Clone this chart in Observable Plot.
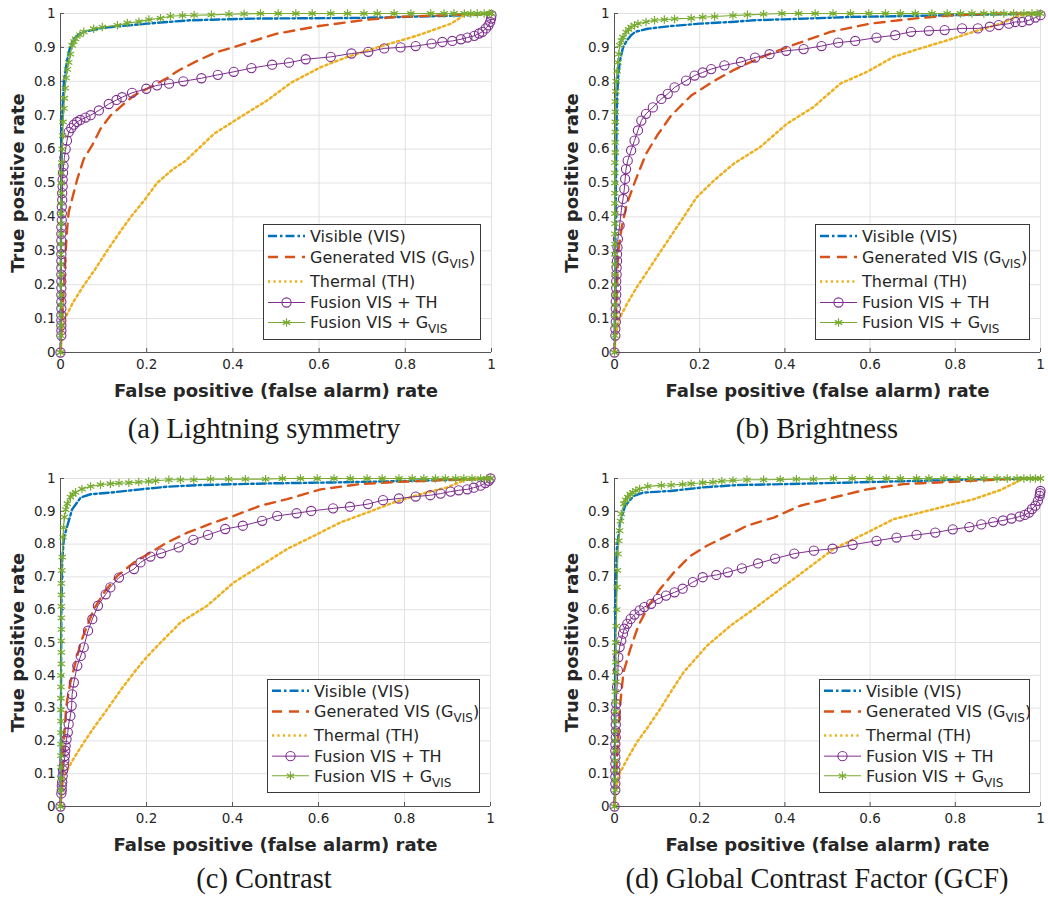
<!DOCTYPE html>
<html><head><meta charset="utf-8">
<script src="https://cdn.jsdelivr.net/npm/d3@7"></script>
<script src="https://cdn.jsdelivr.net/npm/@observablehq/plot@0.6"></script>
<style>
body{margin:0;background:#fff;}
#root{position:relative;width:1048px;height:897px;overflow:hidden;background:#fff;}
.panel{position:absolute;}
.cap{position:absolute;font-family:"Liberation Serif",serif;font-size:28.5px;color:#1a1a1a;text-align:center;white-space:nowrap;line-height:34px;}
</style></head><body><div id="root"></div>
<script>
// ---------- ticks, labels ----------
const xTickValues = [0, 0.2, 0.4, 0.6, 0.8, 1];
const xTickLabels = ["0", "0.2", "0.4", "0.6", "0.8", "1"];
const yTickValues = [0, 0.1, 0.2, 0.3, 0.4, 0.5, 0.6, 0.7, 0.8, 0.9, 1];
const yTickLabels = ["0", "0.1", "0.2", "0.3", "0.4", "0.5", "0.6", "0.7", "0.8", "0.9", "1"];
const xAxisLabel = "False positive (false alarm) rate";
const yAxisLabel = "True positive rate";
const captions = ["(a) Lightning symmetry", "(b) Brightness", "(c) Contrast", "(d) Global Contrast Factor (GCF)"];
const legendMain = ["Visible (VIS)", "Generated VIS (G", "Thermal (TH)", "Fusion VIS + TH", "Fusion VIS + G"];
const legendSub = ["", "VIS", "", "", "VIS"];
const legendTail = ["", ")", "", "", ""];

// ---------- (a) Lightning symmetry ----------
const a_VIS = [[0,0],[0.001,0.3],[0.002,0.5],[0.004,0.7],[0.008,0.8],[0.015,0.86],[0.022,0.9],[0.03,0.925],[0.05,0.945],[0.1,0.958],[0.2,0.97],[0.3,0.98],[0.45,0.985],[0.7,0.987],[0.8,0.99],[0.95,0.995],[1,1]];
const a_GVIS = [[0,0],[0.004,0.1],[0.008,0.2],[0.012,0.3],[0.015,0.36],[0.019,0.414],[0.031,0.473],[0.039,0.512],[0.054,0.571],[0.073,0.61],[0.093,0.66],[0.116,0.699],[0.143,0.729],[0.17,0.758],[0.201,0.778],[0.244,0.807],[0.274,0.832],[0.32,0.862],[0.36,0.885],[0.4,0.9],[0.5,0.94],[0.6,0.963],[0.7,0.98],[0.78,0.99],[0.9,0.995],[1,1]];
const a_TH = [[0,0],[0.003,0.05],[0.008,0.095],[0.03,0.15],[0.055,0.2],[0.08,0.245],[0.108,0.3],[0.135,0.35],[0.163,0.4],[0.195,0.45],[0.224,0.5],[0.26,0.54],[0.29,0.565],[0.356,0.645],[0.418,0.695],[0.48,0.744],[0.534,0.795],[0.604,0.842],[0.666,0.872],[0.735,0.9],[0.828,0.935],[0.906,0.97],[0.937,0.995],[1,1]];
const a_FTH = [[0,0],[0.002,0.05],[0.002,0.065],[0.002,0.08],[0.002,0.095],[0.002,0.11],[0.002,0.13],[0.002,0.15],[0.002,0.17],[0.002,0.19],[0.002,0.21],[0.002,0.23],[0.002,0.25],[0.002,0.27],[0.002,0.29],[0.002,0.31],[0.002,0.33],[0.002,0.35],[0.002,0.37],[0.003,0.39],[0.003,0.41],[0.003,0.43],[0.004,0.45],[0.004,0.47],[0.005,0.49],[0.005,0.51],[0.006,0.53],[0.007,0.55],[0.009,0.575],[0.012,0.6],[0.015,0.625],[0.019,0.65],[0.025,0.662],[0.031,0.672],[0.038,0.68],[0.046,0.686],[0.058,0.693],[0.07,0.7],[0.089,0.714],[0.112,0.733],[0.13,0.745],[0.143,0.753],[0.166,0.766],[0.199,0.778],[0.224,0.788],[0.252,0.793],[0.285,0.8],[0.327,0.809],[0.365,0.819],[0.402,0.828],[0.443,0.839],[0.491,0.849],[0.53,0.855],[0.569,0.865],[0.627,0.872],[0.675,0.882],[0.714,0.887],[0.751,0.897],[0.789,0.9],[0.824,0.904],[0.861,0.911],[0.886,0.916],[0.909,0.919],[0.929,0.924],[0.944,0.929],[0.96,0.934],[0.971,0.941],[0.979,0.946],[0.987,0.956],[0.993,0.965],[0.997,0.975],[0.999,0.985],[1,0.995]];
const a_FG = [[0,0],[0.001,0.05],[0.001,0.08],[0.001,0.11],[0.001,0.14],[0.001,0.17],[0.001,0.2],[0.001,0.23],[0.001,0.26],[0.001,0.29],[0.001,0.32],[0.001,0.35],[0.001,0.38],[0.001,0.41],[0.001,0.44],[0.002,0.47],[0.002,0.5],[0.002,0.53],[0.003,0.56],[0.004,0.6],[0.005,0.64],[0.006,0.68],[0.008,0.72],[0.009,0.75],[0.011,0.78],[0.013,0.81],[0.016,0.835],[0.019,0.856],[0.023,0.88],[0.027,0.906],[0.031,0.917],[0.035,0.925],[0.045,0.937],[0.054,0.946],[0.077,0.955],[0.097,0.96],[0.132,0.965],[0.155,0.972],[0.182,0.976],[0.205,0.982],[0.232,0.986],[0.255,0.992],[0.283,0.994],[0.31,0.995],[0.35,0.996],[0.391,0.998],[0.426,0.999],[0.464,1],[0.505,1],[0.546,1],[0.584,1],[0.627,1],[0.666,1],[0.704,1],[0.735,1],[0.774,1],[0.813,1],[0.859,1],[0.89,1],[0.913,1],[0.937,1],[0.952,1],[0.967,1],[0.983,1],[0.995,1],[1,1]];

// ---------- (b) Brightness ----------
const b_VIS = [[0,0],[0.002,0.3],[0.004,0.6],[0.006,0.75],[0.009,0.82],[0.013,0.862],[0.02,0.9],[0.029,0.92],[0.04,0.937],[0.049,0.946],[0.078,0.955],[0.133,0.963],[0.2,0.97],[0.274,0.975],[0.327,0.98],[0.45,0.985],[0.56,0.99],[0.8,0.995],[1,1]];
const b_GVIS = [[0,0],[0.003,0.1],[0.006,0.2],[0.009,0.3],[0.017,0.37],[0.029,0.438],[0.049,0.507],[0.074,0.586],[0.1,0.64],[0.133,0.699],[0.18,0.758],[0.235,0.802],[0.278,0.832],[0.311,0.852],[0.366,0.882],[0.428,0.911],[0.507,0.946],[0.6,0.97],[0.702,0.985],[0.796,0.995],[0.89,1],[1,1]];
const b_TH = [[0,0],[0.003,0.05],[0.009,0.094],[0.03,0.145],[0.052,0.192],[0.075,0.235],[0.099,0.281],[0.146,0.369],[0.193,0.458],[0.233,0.507],[0.28,0.557],[0.342,0.606],[0.405,0.675],[0.467,0.724],[0.53,0.793],[0.593,0.828],[0.655,0.872],[0.718,0.897],[0.781,0.921],[0.843,0.946],[0.906,0.97],[0.953,0.995],[1,1]];
const b_FTH = [[0,0],[0.002,0.05],[0.002,0.07],[0.003,0.09],[0.003,0.11],[0.003,0.13],[0.003,0.15],[0.004,0.17],[0.004,0.19],[0.004,0.21],[0.005,0.23],[0.005,0.25],[0.006,0.27],[0.006,0.29],[0.007,0.31],[0.008,0.335],[0.012,0.375],[0.016,0.419],[0.02,0.453],[0.023,0.482],[0.025,0.512],[0.027,0.541],[0.031,0.566],[0.039,0.596],[0.047,0.625],[0.055,0.655],[0.063,0.684],[0.074,0.704],[0.09,0.723],[0.11,0.748],[0.125,0.763],[0.141,0.782],[0.168,0.802],[0.188,0.817],[0.207,0.826],[0.227,0.836],[0.258,0.847],[0.297,0.857],[0.33,0.87],[0.364,0.88],[0.403,0.89],[0.444,0.895],[0.486,0.904],[0.525,0.914],[0.565,0.919],[0.615,0.929],[0.659,0.936],[0.696,0.946],[0.738,0.949],[0.775,0.951],[0.816,0.956],[0.853,0.956],[0.881,0.961],[0.902,0.966],[0.926,0.97],[0.941,0.975],[0.957,0.975],[0.973,0.98],[0.988,0.988],[1,0.995]];
const b_FG = [[0,0],[0.001,0.05],[0.001,0.08],[0.001,0.11],[0.001,0.14],[0.001,0.17],[0.001,0.2],[0.001,0.23],[0.001,0.26],[0.001,0.29],[0.001,0.32],[0.001,0.35],[0.001,0.38],[0.001,0.41],[0.001,0.44],[0.001,0.47],[0.001,0.5],[0.001,0.53],[0.001,0.56],[0.002,0.59],[0.002,0.62],[0.002,0.65],[0.002,0.68],[0.002,0.71],[0.002,0.74],[0.003,0.77],[0.004,0.8],[0.006,0.83],[0.008,0.856],[0.01,0.88],[0.012,0.906],[0.016,0.92],[0.02,0.93],[0.027,0.945],[0.033,0.953],[0.039,0.96],[0.047,0.965],[0.055,0.97],[0.074,0.975],[0.094,0.98],[0.117,0.982],[0.141,0.984],[0.18,0.986],[0.207,0.989],[0.235,0.991],[0.278,0.994],[0.312,0.996],[0.35,0.998],[0.393,1],[0.432,1],[0.471,1],[0.513,1],[0.554,1],[0.597,1],[0.636,1],[0.671,1],[0.706,1],[0.745,1],[0.781,1],[0.812,1],[0.839,1],[0.867,1],[0.89,1],[0.914,1],[0.937,1],[0.961,1],[0.98,1],[0.992,1],[1,1]];

// ---------- (c) Contrast ----------
const c_VIS = [[0,0],[0.001,0.3],[0.002,0.6],[0.004,0.75],[0.008,0.82],[0.016,0.856],[0.027,0.906],[0.047,0.942],[0.07,0.952],[0.116,0.957],[0.186,0.967],[0.248,0.975],[0.326,0.98],[0.481,0.985],[0.636,0.988],[0.791,0.992],[0.946,0.997],[1,1]];
const c_GVIS = [[0,0],[0.004,0.1],[0.008,0.2],[0.013,0.3],[0.016,0.327],[0.023,0.378],[0.035,0.439],[0.047,0.5],[0.062,0.551],[0.078,0.602],[0.101,0.652],[0.132,0.703],[0.171,0.744],[0.209,0.774],[0.248,0.805],[0.295,0.835],[0.357,0.866],[0.403,0.886],[0.465,0.917],[0.527,0.937],[0.605,0.967],[0.698,0.983],[0.791,0.99],[0.907,0.996],[1,1]];
const c_TH = [[0,0],[0.003,0.05],[0.008,0.093],[0.03,0.145],[0.054,0.195],[0.08,0.245],[0.109,0.297],[0.14,0.355],[0.171,0.409],[0.2,0.455],[0.233,0.5],[0.279,0.561],[0.341,0.612],[0.403,0.683],[0.465,0.734],[0.527,0.785],[0.589,0.825],[0.651,0.866],[0.713,0.896],[0.775,0.927],[0.837,0.952],[0.899,0.973],[0.946,0.998],[1,1]];
const c_FTH = [[0,0],[0.002,0.04],[0.003,0.05],[0.003,0.063],[0.004,0.075],[0.005,0.093],[0.006,0.11],[0.008,0.124],[0.009,0.14],[0.01,0.154],[0.011,0.17],[0.012,0.185],[0.014,0.205],[0.017,0.226],[0.019,0.251],[0.023,0.276],[0.026,0.307],[0.027,0.342],[0.031,0.378],[0.039,0.429],[0.047,0.459],[0.054,0.485],[0.064,0.536],[0.074,0.571],[0.087,0.612],[0.105,0.647],[0.116,0.668],[0.136,0.698],[0.171,0.724],[0.186,0.744],[0.209,0.762],[0.234,0.772],[0.275,0.79],[0.309,0.813],[0.343,0.828],[0.383,0.846],[0.424,0.856],[0.469,0.871],[0.504,0.886],[0.549,0.894],[0.583,0.901],[0.634,0.909],[0.673,0.914],[0.715,0.922],[0.75,0.934],[0.787,0.939],[0.826,0.945],[0.86,0.949],[0.884,0.954],[0.907,0.96],[0.926,0.964],[0.946,0.967],[0.961,0.972],[0.977,0.978],[0.988,0.986],[0.996,0.993],[1,1]];
const c_FG = [[0,0],[0.001,0.05],[0.001,0.085],[0.001,0.12],[0.001,0.155],[0.001,0.19],[0.001,0.225],[0.001,0.26],[0.001,0.295],[0.001,0.33],[0.001,0.365],[0.001,0.4],[0.002,0.435],[0.002,0.47],[0.002,0.505],[0.002,0.54],[0.002,0.575],[0.002,0.61],[0.002,0.645],[0.002,0.68],[0.003,0.72],[0.004,0.76],[0.006,0.821],[0.007,0.85],[0.009,0.882],[0.012,0.905],[0.016,0.923],[0.023,0.943],[0.029,0.952],[0.035,0.958],[0.05,0.968],[0.07,0.976],[0.093,0.981],[0.116,0.984],[0.136,0.986],[0.159,0.987],[0.182,0.989],[0.205,0.991],[0.221,0.993],[0.252,0.996],[0.279,0.996],[0.31,0.996],[0.349,0.998],[0.391,0.998],[0.43,0.998],[0.477,0.998],[0.516,1],[0.558,1],[0.597,1],[0.636,1],[0.674,1],[0.713,1],[0.748,1],[0.787,1],[0.818,1],[0.845,1],[0.872,1],[0.895,1],[0.919,1],[0.938,1],[0.957,1],[0.977,1],[0.992,1],[1,1]];

// ---------- (d) Global Contrast Factor ----------
const d_VIS = [[0,0],[0.001,0.3],[0.002,0.6],[0.005,0.78],[0.013,0.866],[0.025,0.917],[0.045,0.947],[0.068,0.957],[0.131,0.962],[0.209,0.973],[0.287,0.98],[0.405,0.983],[0.561,0.988],[0.718,0.993],[0.875,0.998],[1,1]];
const d_GVIS = [[0,0],[0.004,0.1],[0.008,0.2],[0.013,0.307],[0.021,0.409],[0.037,0.48],[0.056,0.551],[0.08,0.612],[0.107,0.663],[0.139,0.713],[0.178,0.764],[0.217,0.795],[0.264,0.825],[0.311,0.856],[0.374,0.881],[0.436,0.917],[0.514,0.942],[0.593,0.967],[0.679,0.983],[0.796,0.99],[0.914,0.998],[1,1]];
const d_TH = [[0,0],[0.003,0.05],[0.009,0.093],[0.03,0.145],[0.052,0.195],[0.08,0.245],[0.107,0.297],[0.135,0.355],[0.162,0.409],[0.217,0.49],[0.272,0.551],[0.327,0.602],[0.389,0.663],[0.452,0.724],[0.514,0.785],[0.593,0.835],[0.655,0.876],[0.718,0.896],[0.781,0.917],[0.843,0.937],[0.906,0.965],[0.945,0.99],[0.96,1],[1,1]];
const d_FTH = [[0,0],[0.002,0.05],[0.002,0.07],[0.002,0.09],[0.002,0.11],[0.002,0.13],[0.002,0.15],[0.002,0.17],[0.002,0.19],[0.003,0.21],[0.003,0.23],[0.003,0.25],[0.003,0.27],[0.003,0.29],[0.004,0.313],[0.006,0.364],[0.008,0.415],[0.009,0.455],[0.012,0.486],[0.016,0.506],[0.02,0.527],[0.023,0.542],[0.03,0.557],[0.038,0.572],[0.047,0.585],[0.059,0.598],[0.07,0.608],[0.086,0.618],[0.102,0.633],[0.121,0.643],[0.141,0.653],[0.16,0.664],[0.184,0.684],[0.207,0.699],[0.239,0.706],[0.266,0.714],[0.299,0.726],[0.337,0.741],[0.377,0.756],[0.422,0.771],[0.468,0.78],[0.512,0.786],[0.559,0.798],[0.615,0.81],[0.662,0.82],[0.709,0.828],[0.753,0.835],[0.794,0.845],[0.833,0.852],[0.861,0.86],[0.889,0.867],[0.912,0.872],[0.932,0.878],[0.951,0.884],[0.963,0.889],[0.973,0.896],[0.98,0.907],[0.988,0.917],[0.994,0.932],[0.998,0.947],[0.999,0.955],[1,0.962]];
const d_FG = [[0,0],[0.002,0.05],[0.002,0.08],[0.002,0.11],[0.002,0.14],[0.002,0.17],[0.002,0.2],[0.002,0.23],[0.002,0.26],[0.002,0.29],[0.002,0.32],[0.002,0.35],[0.003,0.38],[0.003,0.41],[0.003,0.44],[0.003,0.47],[0.003,0.5],[0.004,0.55],[0.005,0.6],[0.006,0.669],[0.007,0.72],[0.008,0.77],[0.01,0.81],[0.012,0.841],[0.014,0.87],[0.016,0.892],[0.022,0.923],[0.026,0.935],[0.031,0.943],[0.037,0.952],[0.043,0.958],[0.05,0.963],[0.059,0.968],[0.078,0.976],[0.11,0.979],[0.133,0.98],[0.16,0.982],[0.18,0.984],[0.207,0.987],[0.231,0.989],[0.252,0.992],[0.278,0.994],[0.311,0.996],[0.35,0.996],[0.389,0.997],[0.427,0.998],[0.467,0.998],[0.514,1],[0.558,1],[0.599,1],[0.638,1],[0.671,1],[0.709,1],[0.738,1],[0.773,1],[0.804,1],[0.836,1],[0.867,1],[0.898,1],[0.922,1],[0.945,1],[0.961,1],[0.976,1],[0.988,1],[1,1]];

// ---------- layout & style ----------
const COLORS = {vis: "#0072BD", gvis: "#D95319", th: "#EDB120", fth: "#7E2F8E", fg: "#77AC30"};
const DASH = {vis: "9,3,2.5,3", gvis: "10,7", th: "2.2,3.2"};
const panels = [
  {left: 0,   top: 0,   width: 500, height: 400, mr: 9,  series: [a_VIS, a_GVIS, a_TH, a_FTH, a_FG], leg: {left: 263, top: 224, w: 218, h: 116}, cap: {cx: 264, cy: 429}},
  {left: 554, top: 0,   width: 494, height: 400, mr: 8,  series: [b_VIS, b_GVIS, b_TH, b_FTH, b_FG], leg: {left: 815, top: 224, w: 215, h: 116}, cap: {cx: 817, cy: 429}},
  {left: 0,   top: 465, width: 500, height: 389, mr: 10, series: [c_VIS, c_GVIS, c_TH, c_FTH, c_FG], leg: {left: 267, top: 679, w: 213, h: 114}, cap: {cx: 264, cy: 879}},
  {left: 554, top: 465, width: 494, height: 389, mr: 8,  series: [d_VIS, d_GVIS, d_TH, d_FTH, d_FG], leg: {left: 819, top: 679, w: 211, h: 114}, cap: {cx: 817, cy: 879}}
];

const root = document.getElementById("root");
const X = d => d[0], Y = d => d[1];
const fmtX = d => xTickLabels[xTickValues.indexOf(d)];
const fmtY = d => yTickLabels[yTickValues.indexOf(d)];

panels.forEach((p, idx) => {
  const [vis, gvis, th, fth, fg] = p.series;
  const chart = Plot.plot({
    width: p.width, height: p.height,
    marginLeft: 60, marginRight: p.mr, marginTop: 13, marginBottom: 48,
    x: {domain: [0, 1]}, y: {domain: [0, 1]},
    style: {fontFamily: "DejaVu Sans, sans-serif", fontSize: "13.5px", color: "#262626", background: "transparent", overflow: "visible"},
    marks: [
      Plot.gridX(xTickValues, {stroke: "#e2e2e2", strokeOpacity: 1}),
      Plot.gridY(yTickValues, {stroke: "#e2e2e2", strokeOpacity: 1}),
      Plot.ruleX([0], {stroke: "#555"}),
      Plot.ruleY([0], {stroke: "#555"}),
      Plot.axisX(xTickValues, {tickFormat: fmtX, tickSize: -4, tickPadding: 11, stroke: "#555", fill: "#262626", label: null}),
      Plot.axisY(yTickValues, {tickFormat: fmtY, tickSize: -4, tickPadding: 9, stroke: "#555", fill: "#262626", label: null}),
      Plot.axisX([], {tickSize: 0, label: xAxisLabel, labelAnchor: "center", labelArrow: "none", labelOffset: 44, fontWeight: "bold", fontSize: 18, fill: "#262626"}),
      Plot.axisY([], {tickSize: 0, label: yAxisLabel, labelAnchor: "center", labelArrow: "none", labelOffset: 49, fontWeight: "bold", fontSize: 18, fill: "#262626"}),
      Plot.line(vis,  {x: X, y: Y, stroke: COLORS.vis,  strokeWidth: 2.4, strokeDasharray: DASH.vis}),
      Plot.line(gvis, {x: X, y: Y, stroke: COLORS.gvis, strokeWidth: 2.4, strokeDasharray: DASH.gvis}),
      Plot.line(th,   {x: X, y: Y, stroke: COLORS.th,   strokeWidth: 2.5, strokeDasharray: DASH.th}),
      Plot.line(fth,  {x: X, y: Y, stroke: COLORS.fth,  strokeWidth: 1}),
      Plot.dot(fth,   {x: X, y: Y, r: 4.6, stroke: COLORS.fth, fill: "none", strokeWidth: 1.1}),
      Plot.line(fg,   {x: X, y: Y, stroke: COLORS.fg,   strokeWidth: 1.1}),
      Plot.dot(fg,    {x: X, y: Y, r: 4, symbol: "asterisk", stroke: COLORS.fg, strokeWidth: 1.2})
    ]
  });
  chart.classList.add("panel");
  chart.style.left = p.left + "px";
  chart.style.top = p.top + "px";
  root.appendChild(chart);

  // legend box
  const L = p.leg;
  const rowsY = [12, 33, 57.5, 78.5, 98.5].map(v => v * L.h / 116);
  const svg = d3.create("svg").attr("width", L.w).attr("height", L.h)
    .style("position", "absolute").style("left", L.left + "px").style("top", L.top + "px");
  svg.append("rect").attr("x", 0.5).attr("y", 0.5).attr("width", L.w - 1).attr("height", L.h - 1)
    .attr("fill", "#fff").attr("stroke", "#3a3a3a").attr("stroke-width", 1);
  const styles = [
    {c: COLORS.vis, w: 2.4, dash: DASH.vis},
    {c: COLORS.gvis, w: 2.4, dash: DASH.gvis},
    {c: COLORS.th, w: 2.5, dash: DASH.th},
    {c: COLORS.fth, w: 1, dash: null, marker: "circle"},
    {c: COLORS.fg, w: 1.1, dash: null, marker: "asterisk"}
  ];
  styles.forEach((s, i) => {
    const y = rowsY[i];
    const ln = svg.append("line").attr("x1", 5).attr("x2", 42).attr("y1", y).attr("y2", y)
      .attr("stroke", s.c).attr("stroke-width", s.w);
    if (s.dash) ln.attr("stroke-dasharray", s.dash);
    if (s.marker === "circle") {
      svg.append("circle").attr("cx", 23.5).attr("cy", y).attr("r", 4.6).attr("fill", "none").attr("stroke", s.c).attr("stroke-width", 1.1);
    } else if (s.marker === "asterisk") {
      svg.append("path").attr("transform", `translate(23.5,${y})`)
        .attr("d", d3.symbol(d3.symbolAsterisk, 50)()).attr("fill", "none").attr("stroke", s.c).attr("stroke-width", 1.2);
    }
    const t = svg.append("text").attr("x", 47).attr("y", y).attr("dy", "0.36em")
      .attr("font-family", "DejaVu Sans, sans-serif").attr("font-size", 16).attr("fill", "#262626")
      .text(legendMain[i]);
    if (legendSub[i]) {
      t.append("tspan").attr("font-size", 12).attr("dy", 5).text(legendSub[i]);
      if (legendTail[i]) t.append("tspan").attr("dy", -5).text(legendTail[i]);
    }
  });
  root.appendChild(svg.node());

  // caption
  const cap = document.createElement("div");
  cap.className = "cap";
  cap.style.left = (p.cap.cx - 300) + "px";
  cap.style.width = "600px";
  cap.style.top = (p.cap.cy - 17) + "px";
  cap.textContent = captions[idx];
  root.appendChild(cap);
});
</script></body></html>
